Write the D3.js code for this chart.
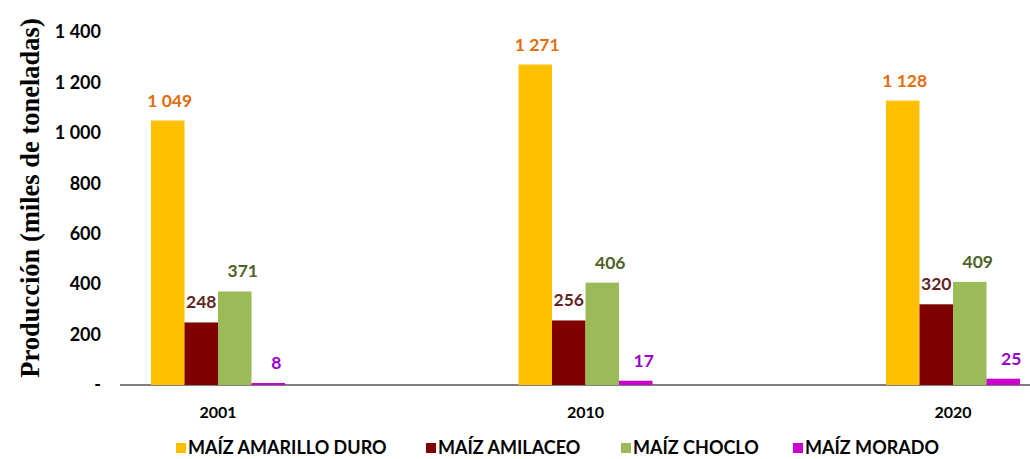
<!DOCTYPE html>
<html><head><meta charset="utf-8">
<script src="https://cdn.jsdelivr.net/npm/d3@7"></script>
<style>body{margin:0;background:#fff}svg{display:block}</style>
</head><body>
<svg id="c" width="1030" height="459"></svg>
<script>
const years = ["2001", "2010", "2020"];
const seriesNames = ["MAÍZ AMARILLO DURO", "MAÍZ AMILACEO", "MAÍZ CHOCLO", "MAÍZ MORADO"];
const amarillo = [1049, 1271, 1128];
const amilaceo = [248, 256, 320];
const choclo = [371, 406, 409];
const morado = [8, 17, 25];
const yTicks = [0, 200, 400, 600, 800, 1000, 1200, 1400];
const barColors = ["#FFC000", "#7F0000", "#9BBB59", "#CC00CC"];
const labelColors = ["#E46C0A", "#632523", "#4F6228", "#9900CC"];
const values = [amarillo, amilaceo, choclo, morado];

const svg = d3.select("#c");
const font = "Lato, 'Open Sans', sans-serif";
const y = d3.scaleLinear().domain([0, 1400]).range([385, 32]);
const xc = d3.scalePoint().domain(years).range([218, 953]);
const inner = d3.scaleBand().domain(d3.range(4)).range([-67, 67]).padding(0);
const fmt = v => d3.format(",")(v).replace(/,/g, " ");

// axis line
svg.append("line").attr("x1", 120).attr("x2", 1030).attr("y1", y(0)).attr("y2", y(0))
  .attr("stroke", "#000").attr("stroke-width", 1.2);

// y tick labels
svg.selectAll(".yt").data(yTicks).join("text")
  .attr("x", 101).attr("y", d => y(d)).attr("dy", "0.35em")
  .attr("text-anchor", "end").attr("font-family", font).attr("font-weight", "bold")
  .attr("font-size", 18).attr("fill", "#000")
  .text(d => d === 0 ? "-" : fmt(d));

// y title
svg.append("text").attr("transform", "translate(39,198) rotate(-90)")
  .attr("text-anchor", "middle").attr("font-family", "'Liberation Serif', serif")
  .attr("font-weight", "bold").attr("font-size", 26.5).attr("fill", "#000")
  .text("Producción (miles de toneladas)");

// bars
const labelDx = [2, 0, 8, 8];
values.forEach((vals, s) => {
  const g = svg.append("g");
  g.selectAll("rect").data(years).join("rect")
    .attr("x", d => xc(d) + inner(s)).attr("width", inner.bandwidth())
    .attr("y", (d, i) => y(vals[i])).attr("height", (d, i) => y(0) - y(vals[i]))
    .attr("fill", barColors[s]);
  g.selectAll("text").data(years).join("text")
    .attr("x", d => xc(d) + inner(s) + inner.bandwidth() / 2 + labelDx[s])
    .attr("y", (d, i) => y(vals[i]) - 14)
    .attr("text-anchor", "middle").attr("font-family", font).attr("font-weight", "bold")
    .attr("font-size", 17.5).attr("fill", labelColors[s])
    .text((d, i) => fmt(vals[i]));
});

// x labels
svg.selectAll(".xl").data(years).join("text")
  .attr("x", d => xc(d)).attr("y", 418).attr("text-anchor", "middle")
  .attr("font-family", font).attr("font-weight", "bold").attr("font-size", 16).attr("fill", "#000")
  .text(d => d);

// legend
const legX = [176, 426, 621, 793];
seriesNames.forEach((n, s) => {
  svg.append("rect").attr("x", legX[s]).attr("y", 443).attr("width", 10).attr("height", 10)
    .attr("fill", barColors[s]);
  svg.append("text").attr("x", legX[s] + 12).attr("y", 454)
    .attr("font-family", font).attr("font-weight", "bold").attr("font-size", 18).attr("fill", "#000")
    .text(n);
});
</script>
</body></html>
